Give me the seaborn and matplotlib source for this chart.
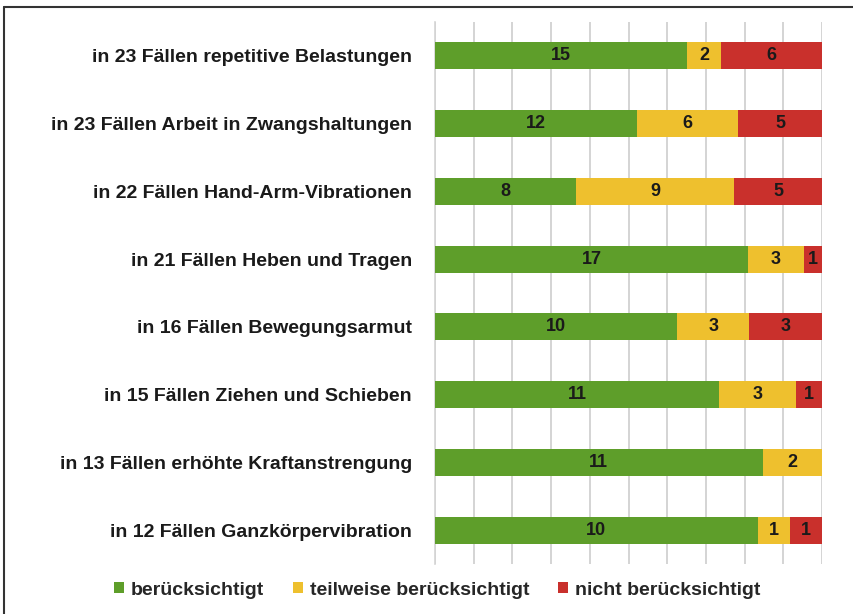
import matplotlib
matplotlib.use("Agg")
import matplotlib.pyplot as plt
from matplotlib.patches import Patch
from matplotlib.lines import Line2D
import seaborn as sns
import pandas as pd
import numpy as np

categories = [
    "in 23 Fällen repetitive Belastungen",
    "in 23 Fällen Arbeit in Zwangshaltungen",
    "in 22 Fällen Hand-Arm-Vibrationen",
    "in 21 Fällen Heben und Tragen",
    "in 16 Fällen Bewegungsarmut",
    "in 15 Fällen Ziehen und Schieben",
    "in 13 Fällen erhöhte Kraftanstrengung",
    "in 12 Fällen Ganzkörpervibration",
]
beruecksichtigt = [15, 12, 8, 17, 10, 11, 11, 10]
teilweise = [2, 6, 9, 3, 3, 3, 2, 1]
nicht = [6, 5, 5, 1, 3, 1, 0, 1]

series_names = ["berücksichtigt", "teilweise berücksichtigt", "nicht berücksichtigt"]
colors = ["#5E9E2A", "#EEC02E", "#C9302C"]

sns.set_theme(style="white")
plt.rcParams["font.family"] = ["Liberation Sans", "DejaVu Sans"]
plt.rcParams["font.weight"] = "bold"

df = pd.DataFrame({"cat": categories, "g": beruecksichtigt, "y": teilweise, "r": nicht})
total = df["g"] + df["y"] + df["r"]
df["p_g"] = df["g"] / total
df["p_gy"] = (df["g"] + df["y"]) / total
df["p_all"] = total / total

fig = plt.figure(figsize=(8.54, 6.14), dpi=100)
ax = fig.add_axes([0.5094, 0.0814, 0.4532, 0.8828])

# stacked by overlaying cumulative shares
for col, c in zip(["p_all", "p_gy", "p_g"], colors[::-1]):
    sns.barplot(data=df, x=col, y="cat", orient="h", color=c, width=0.4,
                saturation=1, ax=ax, linewidth=0, zorder=3)

# segment labels
for i in range(len(categories)):
    t = total[i]
    starts = [0, df["g"][i], df["g"][i] + df["y"][i]]
    vals = [df["g"][i], df["y"][i], df["r"][i]]
    for s, v in zip(starts, vals):
        if v > 0:
            ax.text((s + v / 2) / t, i, str(v), ha="center", va="center",
                    fontsize=13, fontweight="bold", color="#1a1a1a", zorder=5)

ax.set_xlim(0, 1)
ax.set_ylim(len(categories) - 0.5, -0.5)
ax.set_xticks(np.linspace(0, 1, 11))
ax.set_xticklabels([])
ax.tick_params(axis="x", length=0)
ax.grid(axis="x", color="#d4d4d4", linewidth=1.4, zorder=0)
ax.set_xlabel("")
ax.set_ylabel("")

ax.set_yticks(range(len(categories)))
ax.set_yticklabels(categories, fontsize=14, fontweight="bold", color="#1a1a1a")
ax.tick_params(axis="y", which="major", length=0, pad=16.5)
ax.set_yticks(np.arange(-0.5, len(categories), 1), minor=True)
ax.tick_params(axis="y", which="minor", length=3, color="#bbbbbb", width=1)

for side in ["top", "right", "bottom"]:
    ax.spines[side].set_visible(False)
ax.spines["left"].set_color("#d4d4d4")
ax.spines["left"].set_linewidth(1.2)

handles = [Patch(facecolor=c, edgecolor="none") for c in colors]
fig.legend(handles, series_names, loc="center", bbox_to_anchor=(0.512, 0.039), ncol=3,
           frameon=False, handlelength=0.5, handleheight=0.5, handletextpad=0.35,
           columnspacing=1.5, prop={"size": 14, "weight": "bold"})

# outer frame (top and left edges)
fig.add_artist(Line2D([0.005, 1.0], [0.989, 0.989], color="#333333", linewidth=1.5))
fig.add_artist(Line2D([0.005, 0.005], [0.0, 0.989], color="#333333", linewidth=1.5))

fig.savefig("out.png", dpi=100)
